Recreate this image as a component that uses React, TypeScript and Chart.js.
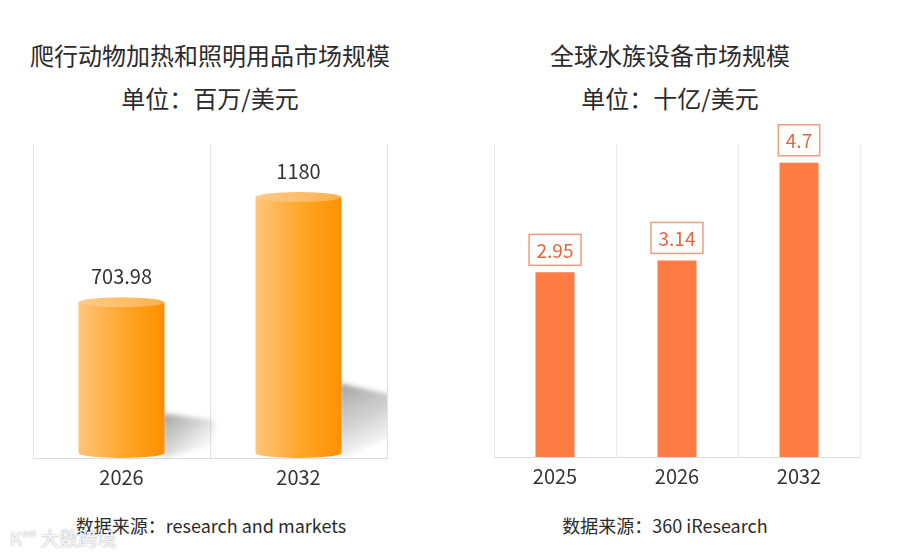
import React, { useEffect, useRef } from "react";
import { Chart, registerables } from "chart.js";

Chart.register(...registerables);

const FONT = '"Noto Sans CJK SC", "Noto Sans", sans-serif';

// Left chart data
const leftCategories = ["2026", "2032"];
const leftValues = [703.98, 1180];
const leftValueLabels = ["703.98", "1180"];
const leftTitle = "爬行动物加热和照明用品市场规模";
const leftUnit = "单位：百万/美元";
const leftSource = "数据来源：research and markets";

// Right chart data
const rightCategories = ["2025", "2026", "2032"];
const rightValues = [2.95, 3.14, 4.7];
const rightValueLabels = ["2.95", "3.14", "4.7"];
const rightTitle = "全球水族设备市场规模";
const rightUnit = "单位：十亿/美元";
const rightSource = "数据来源：360 iResearch";

const cylinderPlugin = {
  id: "cylinderBars",
  afterDatasetsDraw(chart: any) {
    const ctx = chart.ctx as CanvasRenderingContext2D;
    const area = chart.chartArea;
    const meta = chart.getDatasetMeta(0);
    ctx.save();
    ctx.beginPath();
    ctx.rect(area.left, area.top - 40, area.right - area.left, area.bottom - area.top + 41);
    ctx.clip();
    meta.data.forEach((bar: any, i: number) => {
      const { x, y, base, width } = bar.getProps(["x", "y", "base", "width"], true);
      const left = x - width / 2;
      const right = x + width / 2;
      const h = base - y;
      const ry = 5;
      // shadow
      const sh = h * 0.23;
      const sw = width * 0.58;
      ctx.save();
      ctx.filter = "blur(2.5px)";
      const sg = ctx.createLinearGradient(right, base - sh * 1.2, right + sw * 0.7, base);
      sg.addColorStop(0, "rgba(110,110,110,0.62)");
      sg.addColorStop(0.5, "rgba(150,150,150,0.42)");
      sg.addColorStop(1, "rgba(210,210,210,0.08)");
      ctx.fillStyle = sg;
      ctx.beginPath();
      ctx.moveTo(right - 2, base);
      ctx.lineTo(right - 2, base - sh * 1.25);
      ctx.lineTo(right + sw, base - sh * 1.05);
      ctx.lineTo(right + sw, base - sh * 0.35);
      ctx.closePath();
      ctx.fill();
      ctx.restore();

      // body
      const g = ctx.createLinearGradient(left, 0, right, 0);
      g.addColorStop(0, "#FFC47A");
      g.addColorStop(0.55, "#FFA526");
      g.addColorStop(1, "#FF9000");
      ctx.fillStyle = g;
      ctx.beginPath();
      ctx.moveTo(left, y);
      ctx.lineTo(left, base - ry);
      ctx.ellipse(x, base - ry, width / 2, ry, 0, Math.PI, 0, true);
      ctx.lineTo(right, y);
      ctx.closePath();
      ctx.fill();
      // top ellipse
      const tg = ctx.createLinearGradient(left, 0, right, 0);
      tg.addColorStop(0, "#FFCB8A");
      tg.addColorStop(1, "#FFB04A");
      ctx.fillStyle = tg;
      ctx.beginPath();
      ctx.ellipse(x, y, width / 2, ry, 0, 0, Math.PI * 2);
      ctx.fill();

      // value label
      ctx.fillStyle = "#333333";
      ctx.font = `20px ${FONT}`;
      ctx.textAlign = "center";
      ctx.textBaseline = "middle";
      ctx.fillText(leftValueLabels[i], x, y - 26);
    });
    ctx.restore();
  },
};

const boxLabelPlugin = {
  id: "boxLabels",
  afterDatasetsDraw(chart: any) {
    const ctx = chart.ctx as CanvasRenderingContext2D;
    const meta = chart.getDatasetMeta(0);
    ctx.save();
    ctx.font = `19px ${FONT}`;
    ctx.textAlign = "center";
    ctx.textBaseline = "middle";
    meta.data.forEach((bar: any, i: number) => {
      const { x, y } = bar.getProps(["x", "y"], true);
      const text = rightValueLabels[i];
      const tw = ctx.measureText(text).width;
      const bw = tw + 15;
      const bh = 31;
      const by = y - 7 - bh;
      ctx.fillStyle = "#ffffff";
      ctx.fillRect(x - bw / 2, by, bw, bh);
      ctx.strokeStyle = "#F29C80";
      ctx.lineWidth = 1.5;
      ctx.strokeRect(x - bw / 2, by, bw, bh);
      ctx.fillStyle = "#E2673E";
      ctx.fillText(text, x, by + bh / 2 + 1);
    });
    ctx.restore();
  },
};

function xAxis(height: number, gridColor: string) {
  return {
    grid: { display: true, offset: true, color: gridColor, drawTicks: false, lineWidth: 1 },
    border: { display: true, color: "#dcdcdc" },
    ticks: { color: "#333333", font: { size: 20, family: FONT }, padding: 7 },
    afterFit(scale: any) {
      scale.height = height;
    },
  };
}

function LeftChart() {
  const ref = useRef<HTMLCanvasElement>(null);
  useEffect(() => {
    const chart = new Chart(ref.current!, {
      type: "bar",
      data: {
        labels: leftCategories,
        datasets: [
          {
            data: leftValues,
            backgroundColor: "rgba(0,0,0,0)",
            barPercentage: 0.486,
            categoryPercentage: 1,
          },
        ],
      },
      options: {
        responsive: false,
        animation: false,
        layout: { padding: { left: 33, right: 33, top: 14, bottom: 0 } },
        plugins: { legend: { display: false }, tooltip: { enabled: false } },
        scales: {
          x: xAxis(42, "#e2e2e2") as any,
          y: { display: false, min: 0, max: 1420 },
        },
      },
      plugins: [cylinderPlugin],
    });
    return () => chart.destroy();
  }, []);
  return (
    <canvas
      ref={ref}
      width={420}
      height={370}
      style={{ position: "absolute", left: 0, top: 130, width: 420, height: 370 }}
    />
  );
}

function RightChart() {
  const ref = useRef<HTMLCanvasElement>(null);
  useEffect(() => {
    const chart = new Chart(ref.current!, {
      type: "bar",
      data: {
        labels: rightCategories,
        datasets: [
          {
            data: rightValues,
            backgroundColor: "#FF7C45",
            barPercentage: 0.32,
            categoryPercentage: 1,
          },
        ],
      },
      options: {
        responsive: false,
        animation: false,
        layout: { padding: { left: 24, right: 30, top: 34, bottom: 0 } },
        plugins: { legend: { display: false }, tooltip: { enabled: false } },
        scales: {
          x: xAxis(43, "#ececec") as any,
          y: { display: false, min: 0, max: 5 },
        },
      },
      plugins: [boxLabelPlugin],
    });
    return () => chart.destroy();
  }, []);
  return (
    <canvas
      ref={ref}
      width={420}
      height={390}
      style={{ position: "absolute", left: 470, top: 110, width: 420, height: 390 }}
    />
  );
}

const textStyle = (left: number, width: number, top: number, size: number): React.CSSProperties => ({
  position: "absolute",
  left,
  width,
  top,
  textAlign: "center",
  fontSize: size,
  lineHeight: "30px",
  color: "#2b2b2b",
  fontFamily: FONT,
  whiteSpace: "nowrap",
});

export default function App() {
  return (
    <div
      style={{
        position: "absolute",
        left: 0,
        top: 0,
        width: 900,
        height: 555,
        background: "#ffffff",
        overflow: "hidden",
        fontFamily: FONT,
      }}
    >
      <div style={textStyle(0, 420, 40, 24)}>{leftTitle}</div>
      <div style={textStyle(0, 420, 83, 24)}>{leftUnit}</div>
      <div style={textStyle(470, 400, 40, 24)}>{rightTitle}</div>
      <div style={textStyle(470, 400, 83, 24)}>{rightUnit}</div>
      <LeftChart />
      <RightChart />
      <div style={textStyle(0, 422, 510, 18)}>{leftSource}</div>
      <div style={textStyle(465, 400, 510, 18)}>{rightSource}</div>
      <div
        style={{
          position: "absolute",
          left: 10,
          top: 526,
          fontSize: 19,
          lineHeight: "24px",
          color: "rgba(255,255,255,0.95)",
          textShadow: "0 0 1.5px rgba(0,0,0,0.45)",
          fontFamily: FONT,
          whiteSpace: "nowrap",
        }}
      >
        K°° 大数跨境
      </div>
    </div>
  );
}
